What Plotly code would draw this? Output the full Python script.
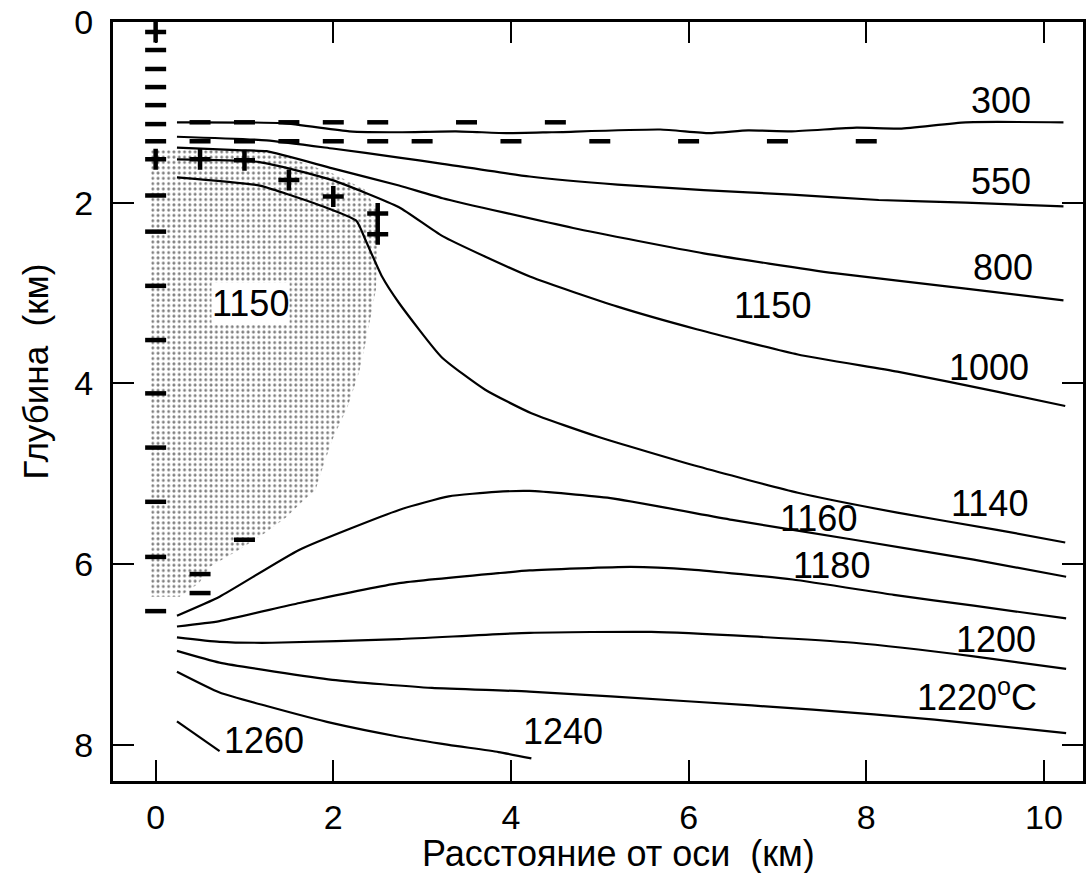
import plotly.graph_objects as go

# ---------------- data ----------------
iso300_x = [0.24, 1.43, 2.18, 2.74, 3.38, 3.96, 4.46, 5.68, 6.23, 6.67, 7.16, 7.89, 8.38, 9.12, 10.22]
iso300_y = [1.11, 1.12, 1.21, 1.22, 1.21, 1.23, 1.22, 1.19, 1.23, 1.20, 1.21, 1.17, 1.18, 1.11, 1.11]

iso550_x = [0.24, 1.25, 1.99, 2.74, 3.23, 4.21, 5.20, 6.17, 7.16, 8.14, 9.12, 10.22]
iso550_y = [1.27, 1.31, 1.40, 1.50, 1.57, 1.71, 1.80, 1.86, 1.91, 1.97, 2.00, 2.04]

iso800_x = [0.24, 0.98, 1.25, 1.99, 2.74, 3.23, 4.70, 6.17, 7.64, 9.12, 10.22]
iso800_y = [1.39, 1.42, 1.43, 1.62, 1.81, 1.95, 2.28, 2.56, 2.78, 2.95, 3.08]

iso1000_x = [0.24, 1.17, 1.99, 2.74, 3.23, 4.22, 5.20, 6.09, 7.23, 8.35, 9.47, 10.24]
iso1000_y = [1.52, 1.55, 1.75, 2.05, 2.37, 2.82, 3.15, 3.40, 3.68, 3.87, 4.09, 4.25]

iso1140_x = [0.24, 1.17, 1.47, 1.99, 2.26, 2.37, 2.55, 2.74, 3.22, 3.71, 4.23, 4.98, 6.11, 7.23, 8.35, 9.47, 10.24]
iso1140_y = [1.72, 1.81, 1.90, 2.08, 2.20, 2.43, 2.82, 3.11, 3.71, 4.07, 4.33, 4.59, 4.92, 5.21, 5.43, 5.62, 5.76]

iso1160_x = [0.24, 0.72, 1.62, 2.74, 3.30, 3.83, 4.21, 5.12, 6.49, 7.86, 9.21, 10.25]
iso1160_y = [6.57, 6.36, 5.84, 5.40, 5.25, 5.20, 5.19, 5.27, 5.51, 5.73, 5.95, 6.14]

iso1180_x = [0.24, 0.72, 1.62, 2.74, 3.86, 4.21, 5.35, 6.03, 7.17, 8.31, 9.21, 10.25]
iso1180_y = [6.69, 6.63, 6.43, 6.21, 6.10, 6.07, 6.03, 6.06, 6.17, 6.34, 6.46, 6.60]

iso1200_x = [0.24, 0.72, 1.31, 2.74, 4.21, 5.58, 6.71, 7.86, 9.21, 10.25]
iso1200_y = [6.81, 6.86, 6.87, 6.83, 6.76, 6.75, 6.80, 6.87, 7.02, 7.16]

iso1220_x = [0.24, 0.72, 1.99, 3.11, 4.21, 6.03, 7.40, 8.77, 10.25]
iso1220_y = [6.96, 7.09, 7.28, 7.37, 7.41, 7.52, 7.61, 7.72, 7.87]

iso1240_x = [0.24, 0.72, 1.25, 1.99, 2.74, 3.30, 3.86, 4.23]
iso1240_y = [7.19, 7.42, 7.57, 7.76, 7.91, 8.00, 8.08, 8.15]

iso1260_x = [0.24, 0.72]
iso1260_y = [7.74, 8.07]

# dotted (melt) region outline
melt_x = [-0.05, 1.20, 1.50, 2.00, 2.35, 2.50, 2.50, 2.48, 2.37, 2.29, 2.16, 1.99, 1.86,
          1.80, 1.67, 1.47, 1.24, 0.94, 0.61, 0.49, 0.27, -0.05]
melt_y = [1.42, 1.42, 1.50, 1.68, 1.85, 2.10, 2.41, 2.96, 3.52, 3.88, 4.26, 4.62, 4.99,
          5.18, 5.29, 5.48, 5.65, 5.84, 6.03, 6.21, 6.36, 6.36]

# "-" and "+" observation symbols
minus_x = ([0] * 15
           + [0.5, 1.0, 1.5, 2.0, 2.5, 3.5, 4.5]
           + [0.5, 1.0, 1.5, 2.0, 2.5, 3.0, 4.0, 5.0, 6.0, 7.0, 8.0]
           + [1.0, 0.5, 0.5])
minus_y = ([0.31, 0.52, 0.72, 0.92, 1.13, 1.32, 1.92, 2.32, 2.92, 3.52, 4.11, 4.71, 5.31, 5.92, 6.52]
           + [1.11] * 7
           + [1.32] * 11
           + [5.73, 6.11, 6.32])
plus_x = [0, 0, 0.5, 1.0, 1.5, 2.0, 2.5, 2.5]
plus_y = [0.11, 1.52, 1.52, 1.53, 1.75, 1.93, 2.12, 2.35]

# isotherm labels
label_text = ["300", "550", "800", "1150", "1000", "1140", "1160", "1180", "1200",
              "1220<sup>o</sup>C", "1240", "1260"]
label_x = [9.52, 9.52, 9.54, 6.94, 9.38, 9.39, 7.46, 7.61, 9.46, 9.25, 4.59, 1.22]
label_y = [0.87, 1.76, 2.72, 3.14, 3.82, 5.33, 5.49, 6.01, 6.83, 7.45, 7.85, 7.95]
melt_label = "1150"
melt_label_x = 1.07
melt_label_y = 3.11

x_ticks = [0, 2, 4, 6, 8, 10]
y_ticks = [0, 2, 4, 6, 8]

FONT = "Liberation Sans, Arial, sans-serif"

fig = go.Figure()

fig.add_trace(go.Scatter(
    x=melt_x, y=melt_y, mode="lines", fill="toself",
    line=dict(width=0, color="rgba(0,0,0,0)"),
    fillcolor="white",
    fillpattern=dict(shape=".", size=5.3, solidity=0.24, fgcolor="black", bgcolor="white"),
    hoverinfo="skip", showlegend=False))

iso_lines = [(iso300_x, iso300_y), (iso550_x, iso550_y), (iso800_x, iso800_y),
             (iso1000_x, iso1000_y), (iso1140_x, iso1140_y), (iso1160_x, iso1160_y),
             (iso1180_x, iso1180_y), (iso1200_x, iso1200_y), (iso1220_x, iso1220_y),
             (iso1240_x, iso1240_y), (iso1260_x, iso1260_y)]
for xs, ys in iso_lines:
    fig.add_trace(go.Scatter(x=xs, y=ys, mode="lines",
                             line=dict(color="black", width=2.2, shape="spline", smoothing=0.5),
                             showlegend=False, hoverinfo="skip"))

fig.add_trace(go.Scatter(x=minus_x, y=minus_y, mode="markers",
                         marker=dict(symbol="line-ew", size=15,
                                     line=dict(color="black", width=4.5)),
                         showlegend=False, hoverinfo="skip"))
fig.add_trace(go.Scatter(x=plus_x, y=plus_y, mode="markers",
                         marker=dict(symbol="cross-thin", size=15,
                                     line=dict(color="black", width=4.5)),
                         showlegend=False, hoverinfo="skip"))

for t, lx, ly in zip(label_text, label_x, label_y):
    fig.add_annotation(x=lx, y=ly, text=t, showarrow=False, xanchor="center",
                       yanchor="middle", font=dict(family=FONT, size=36, color="black"))
fig.add_annotation(x=melt_label_x, y=melt_label_y, text=melt_label, showarrow=False,
                   xanchor="center", yanchor="middle", bgcolor="white", borderpad=0,
                   font=dict(family=FONT, size=36, color="black"))

# axis titles
fig.add_annotation(xref="paper", yref="paper", x=0.521, y=-0.095, text="Расстояние от оси  (км)",
                   showarrow=False, xanchor="center", yanchor="middle",
                   font=dict(family=FONT, size=36, color="black"))
fig.add_annotation(xref="paper", yref="paper", x=-0.080, y=0.540, text="Глубина  (км)",
                   textangle=-90, showarrow=False, xanchor="center", yanchor="middle",
                   font=dict(family=FONT, size=35, color="black"))

axis_common = dict(showgrid=False, zeroline=False, showline=True, linecolor="black",
                   linewidth=3, ticks="inside", ticklen=21, tickwidth=2, tickcolor="black",
                   mirror="ticks", tickfont=dict(family=FONT, size=34, color="black"))
fig.update_xaxes(range=[-0.48, 10.44], tickvals=x_ticks, ticklabelstandoff=4, **axis_common)
fig.update_yaxes(range=[8.40, 0], tickvals=y_ticks, ticklabelstandoff=10, **axis_common)

fig.update_layout(width=1086, height=873, margin=dict(l=113, r=0, t=22, b=92),
                  plot_bgcolor="white", paper_bgcolor="white", showlegend=False,
                  font=dict(family=FONT, color="black"))

fig.write_html("out.html", config={"displayModeBar": False},
               post_script="document.body.style.margin='0';")
